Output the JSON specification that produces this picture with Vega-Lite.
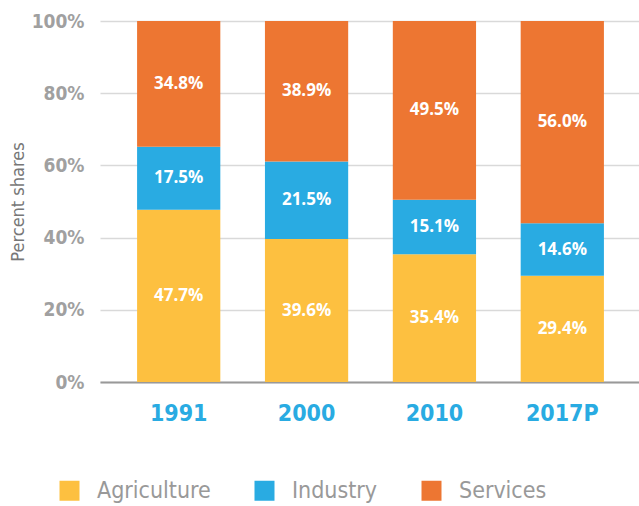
{
  "$schema": "https://vega.github.io/schema/vega-lite/v6.json",
  "width": 541,
  "height": 361,
  "autosize": {"type": "none"},
  "padding": {"left": 100, "top": 21, "right": 0, "bottom": 125},
  "background": "white",
  "config": {"view": {"stroke": null}, "font": "DejaVu Sans Condensed, Roboto, sans-serif"},
  "data": {
    "values": [
      {"year": "1991", "sector": "Agriculture", "share": 0.477},
      {"year": "1991", "sector": "Industry", "share": 0.175},
      {"year": "1991", "sector": "Services", "share": 0.348},
      {"year": "2000", "sector": "Agriculture", "share": 0.396},
      {"year": "2000", "sector": "Industry", "share": 0.215},
      {"year": "2000", "sector": "Services", "share": 0.389},
      {"year": "2010", "sector": "Agriculture", "share": 0.354},
      {"year": "2010", "sector": "Industry", "share": 0.151},
      {"year": "2010", "sector": "Services", "share": 0.495},
      {"year": "2017P", "sector": "Agriculture", "share": 0.294},
      {"year": "2017P", "sector": "Industry", "share": 0.146},
      {"year": "2017P", "sector": "Services", "share": 0.56}
    ]
  },
  "encoding": {
    "x": {
      "field": "year",
      "type": "nominal",
      "sort": null,
      "scale": {"paddingInner": 0.349, "paddingOuter": 0.29},
      "axis": {
        "title": null,
        "labelAngle": 0,
        "labelFontSize": 23,
        "labelFontWeight": "bold",
        "labelColor": "#29ABE2",
        "labelPadding": 20,
        "ticks": false,
        "domainColor": "#999999",
        "domainWidth": 2
      }
    },
    "y": {
      "field": "share",
      "type": "quantitative",
      "stack": "zero",
      "scale": {"domain": [0, 1], "nice": false},
      "axis": {
        "title": "Percent shares",
        "titleFontSize": 18,
        "titleFontWeight": "normal",
        "titleColor": "#777777",
        "titlePadding": 4,
        "values": [0, 0.2, 0.4, 0.6, 0.8, 1],
        "format": ".0%",
        "labelFontSize": 19,
        "labelFontWeight": "bold",
        "labelColor": "#a0a0a0",
        "labelPadding": 16,
        "ticks": false,
        "domain": false,
        "gridColor": "#d9d9d9",
        "gridWidth": 1.5
      }
    }
  },
  "layer": [
    {
      "mark": {"type": "bar"},
      "encoding": {
        "color": {
          "field": "sector",
          "type": "nominal",
          "scale": {
            "domain": ["Agriculture", "Industry", "Services"],
            "range": ["#FDC040", "#29ABE2", "#ED7632"]
          },
          "legend": {
            "title": null,
            "orient": "none",
            "direction": "horizontal",
            "legendX": -42,
            "legendY": 458,
            "symbolType": "square",
            "symbolSize": 400,
            "symbolStrokeWidth": 0,
            "labelFontSize": 23,
            "labelColor": "#999999",
            "labelOffset": 16,
            "columnPadding": 42
          }
        },
        "order": {"field": "sector", "sort": "ascending"}
      }
    },
    {
      "mark": {"type": "text", "color": "white", "fontSize": 17, "fontWeight": "bold", "font": "Open Sans", "baseline": "middle"},
      "encoding": {
        "y": {"field": "share", "type": "quantitative", "stack": "zero", "bandPosition": 0.5},
        "text": {"field": "share", "type": "quantitative", "format": ".1%"},
        "order": {"field": "sector", "sort": "ascending"},
        "detail": {"field": "sector"}
      }
    }
  ]
}
